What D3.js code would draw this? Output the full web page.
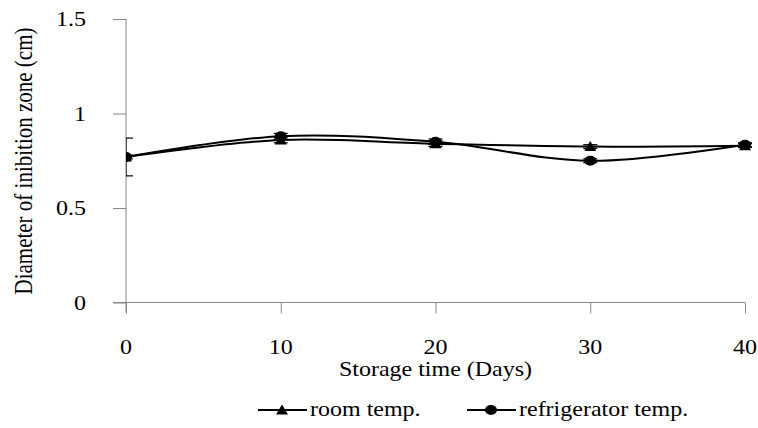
<!DOCTYPE html>
<html>
<head>
<meta charset="utf-8">
<script src="https://cdn.jsdelivr.net/npm/d3@7"></script>
<style>
  body { margin: 0; background: #fff; }
</style>
</head>
<body>
<div id="chart"></div>
<script>
// --- Data ---
const days = [0, 10, 20, 30, 40];
const roomTemp = [0.77, 0.86, 0.84, 0.825, 0.83];
const roomErr = [0.1, 0.015, 0.015, 0.01, 0.01];
const fridgeTemp = [0.77, 0.88, 0.85, 0.75, 0.835];
const fridgeErr = [0.01, 0.015, 0.015, 0.01, 0.01];
const yTicks = [0, 0.5, 1, 1.5];
const xTicks = [0, 10, 20, 30, 40];

const series = [
  { name: "room temp.", values: roomTemp, err: roomErr, marker: "triangle" },
  { name: "refrigerator temp.", values: fridgeTemp, err: fridgeErr, marker: "circle" }
];

// --- SVG Setup ---
const width = 758, height = 428;
const stretch = 1.2; // text in the picture is a little wider than tall
const serif = "'Liberation Serif', 'DejaVu Serif', serif";

const svg = d3.select("#chart").append("svg")
  .attr("width", width)
  .attr("height", height)
  .style("font-family", serif);

const x = d3.scaleLinear().domain([0, 40]).range([126, 745]);
const y = d3.scaleLinear().domain([0, 1.5]).range([302.5, 19]);

svg.append("defs").append("clipPath").attr("id", "plot")
  .append("rect")
  .attr("x", x(0)).attr("y", 0)
  .attr("width", x(40) - x(0) + 10).attr("height", y(0));

// --- Axes ---
const axisColor = "#868686";

const yAxis = svg.append("g")
  .attr("transform", `translate(${x(0)},0)`)
  .call(d3.axisLeft(y).tickValues(yTicks).tickSize(13));
yAxis.select(".domain").attr("stroke", axisColor).attr("d", `M0,${y(1.5)}V${y(0) + 10}`);
yAxis.selectAll(".tick line").attr("stroke", axisColor);
yAxis.selectAll(".tick text").remove();

const xAxis = svg.append("g")
  .attr("transform", `translate(0,${y(0)})`)
  .call(d3.axisBottom(x).tickValues(xTicks).tickSize(11));
xAxis.select(".domain").attr("stroke", axisColor).attr("d", `M${x(0) - 13},0H${x(40)}`);
xAxis.selectAll(".tick line").attr("stroke", axisColor);
xAxis.selectAll(".tick text").remove();

// tick labels (drawn separately so they can be widened like the picture)
svg.selectAll(".ylab").data(yTicks).enter().append("text")
  .attr("class", "ylab")
  .attr("transform", d => `translate(86,${y(d) + 7}) scale(${stretch},1)`)
  .attr("text-anchor", "end")
  .attr("font-family", serif)
  .attr("font-size", 20)
  .text(d => d);

svg.selectAll(".xlab").data(xTicks).enter().append("text")
  .attr("class", "xlab")
  .attr("transform", d => `translate(${x(d)},354) scale(${stretch},1)`)
  .attr("text-anchor", "middle")
  .attr("font-family", serif)
  .attr("font-size", 20)
  .text(d => d);

svg.append("text")
  .attr("transform", `translate(${x(20)},376) scale(${stretch},1)`)
  .attr("text-anchor", "middle")
  .attr("font-family", serif)
  .attr("font-size", 20)
  .text("Storage time (Days)");

svg.append("text")
  .attr("transform", `translate(32,161) rotate(-90) scale(1,${stretch})`)
  .attr("text-anchor", "middle")
  .attr("font-family", serif)
  .attr("font-size", 21)
  .text("Diameter of inibition zone (cm)");

// --- Lines ---
const line = d3.line()
  .x((d, i) => x(days[i]))
  .y(d => y(d))
  .curve(d3.curveCardinal.tension(0));

const plot = svg.append("g").attr("clip-path", "url(#plot)");

function drawMarker(g, type) {
  if (type === "triangle") {
    g.append("path").attr("d", "M0,-5.5L6,4.5L-6,4.5Z").attr("fill", "#000");
  } else {
    g.append("ellipse").attr("rx", 6).attr("ry", 5).attr("fill", "#000");
  }
}

series.forEach(s => {
  plot.append("path")
    .attr("d", line(s.values))
    .attr("fill", "none")
    .attr("stroke", "#000")
    .attr("stroke-width", 2);

  // error bars
  s.values.forEach((v, i) => {
    const cx = x(days[i]);
    const eb = plot.append("g").attr("stroke", "#000").attr("stroke-width", 1.2);
    eb.append("line").attr("x1", cx).attr("x2", cx).attr("y1", y(v - s.err[i])).attr("y2", y(v + s.err[i]));
    eb.append("line").attr("x1", cx - 7).attr("x2", cx + 7).attr("y1", y(v - s.err[i])).attr("y2", y(v - s.err[i]));
    eb.append("line").attr("x1", cx - 7).attr("x2", cx + 7).attr("y1", y(v + s.err[i])).attr("y2", y(v + s.err[i]));
  });

  s.values.forEach((v, i) => {
    const g = plot.append("g").attr("transform", `translate(${x(days[i])},${y(v)})`);
    drawMarker(g, s.marker);
  });
});

// --- Legend ---
const legendItems = [
  { s: series[0], x0: 258 },
  { s: series[1], x0: 467 }
];
const ly = 410;
legendItems.forEach(item => {
  const g = svg.append("g");
  g.append("line")
    .attr("x1", item.x0).attr("x2", item.x0 + 49)
    .attr("y1", ly).attr("y2", ly)
    .attr("stroke", "#000").attr("stroke-width", 2);
  const m = g.append("g").attr("transform", `translate(${item.x0 + 24},${ly})`);
  drawMarker(m, item.s.marker);
  g.append("text")
    .attr("transform", `translate(${item.x0 + 52},${ly + 6}) scale(${stretch},1)`)
    .attr("font-family", serif)
    .attr("font-size", 20)
    .text(item.s.name);
});
</script>
</body>
</html>
